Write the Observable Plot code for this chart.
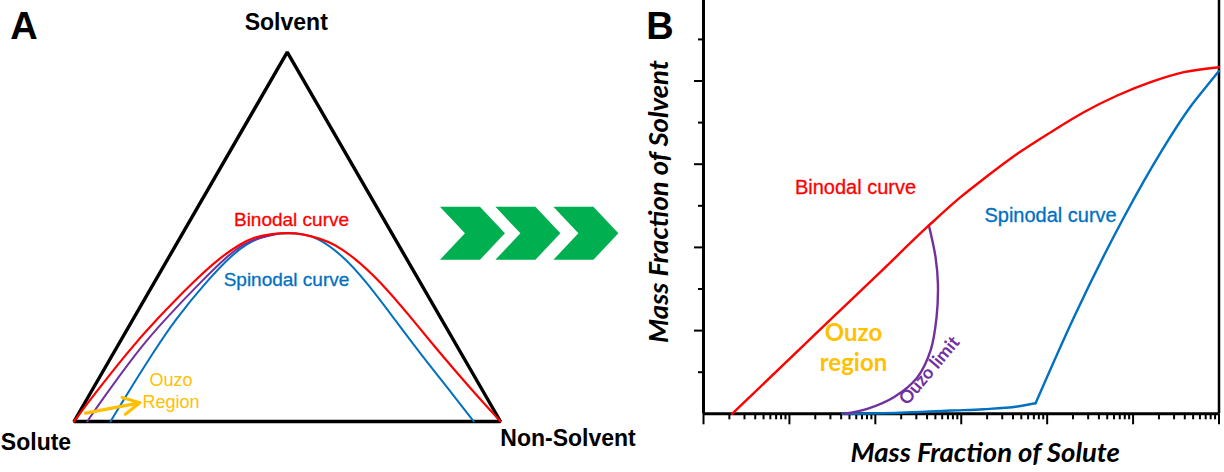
<!DOCTYPE html>
<html>
<head>
<meta charset="utf-8">
<script src="https://cdn.jsdelivr.net/npm/d3@7"></script>
<script src="https://cdn.jsdelivr.net/npm/@observablehq/plot@0.6"></script>
<style>
html, body { margin: 0; padding: 0; background: #fff; }
#wrap { display: flex; width: 1224px; height: 472px; overflow: hidden; }
#wrap svg { display: block; flex: none; }
</style>
</head>
<body>
<div id="wrap"></div>
<script>
// ---------- Panel A : ternary diagram (triangle side = 1, x along Solute→Non-Solvent, y = height) ----------
const SQ = Math.sqrt(3) / 2;
const vertexNames = ["Solute", "Non-Solvent", "Solvent"];
const triangleX = [0, 1, 0.5];
const triangleY = [0, 0, SQ];

const binodalA_x = [0, 0.0363, 0.1285, 0.1911, 0.2825, 0.3435, 0.3904, 0.4216, 0.4607, 0.4999, 0.5388, 0.5780, 0.6094, 0.6560, 0.7163, 0.7960, 0.8593, 0.9297, 1.0];
const binodalA_y = [0, 0.0492, 0.1665, 0.2368, 0.3306, 0.3852, 0.4166, 0.4321, 0.4396, 0.4424, 0.4396, 0.4284, 0.4166, 0.3852, 0.3306, 0.2368, 0.1587, 0.0774, 0];

const spinodalA_x = [0.0856, 0.1151, 0.1887, 0.2356, 0.3123, 0.3740, 0.4068, 0.4373, 0.4701, 0.5029, 0.5358, 0.5686, 0.6249, 0.6835, 0.7538, 0.8124, 0.8750, 0.9374];
const spinodalA_y = [0, 0.0492, 0.1665, 0.2368, 0.3306, 0.3939, 0.4173, 0.4321, 0.4396, 0.4420, 0.4396, 0.4321, 0.3939, 0.3306, 0.2368, 0.1587, 0.0804, 0];

const ouzoA_x = [0.0309, 0.0647, 0.1496, 0.2106, 0.3006, 0.3623, 0.4061, 0.4764];
const ouzoA_y = [0, 0.0492, 0.1665, 0.2368, 0.3306, 0.3904, 0.4244, 0.4401];

const ouzoArrowA = {x1: 0.027, y1: 0.0195, x2: 0.1543, y2: 0.0438};

// decorative chevrons (shape in triangle units, and left positions)
const chevronShapeX = [0, 0.0938, 0.1524, 0.0938, 0, 0.0586];
const chevronShapeY = [0.5034, 0.5034, 0.4413, 0.3791, 0.3791, 0.4413];
const chevronLeft = [0.858, 0.988, 1.124];

// ---------- Panel B : log mass fraction of solute vs mass fraction of solvent ----------
const binodalB_x = [2.16e-6, 3.0e-5, 1.15e-4, 4.2e-4, 9.8e-4, 1.83e-3, 4.49e-3, 0.011, 0.0267, 0.0655, 0.16, 0.39, 1];
const binodalB_y = [0, 0.2262, 0.3413, 0.4527, 0.5207, 0.5649, 0.625, 0.677, 0.725, 0.7651, 0.7971, 0.8212, 0.8332];

const spinodalFlatB_x = [4.15e-5, 1.96e-4, 7.5e-4, 1.83e-3, 4.49e-3, 7.33e-3];
const spinodalFlatB_y = [0, 0.0024, 0.0079, 0.011, 0.0175, 0.0255];
const spinodalRiseB_x = [7.33e-3, 0.0205, 0.0782, 0.209, 0.467, 0.698, 1];
const spinodalRiseB_y = [0.0255, 0.2322, 0.4726, 0.628, 0.7387, 0.7844, 0.824];

const ouzoLimitB_x = [4.2e-4, 5.02e-4, 5.35e-4, 5.16e-4, 4.39e-4, 3.08e-4, 1.64e-4, 8.05e-5, 4.3e-5];
const ouzoLimitB_y = [0.4527, 0.3767, 0.3125, 0.2324, 0.1517, 0.0875, 0.0399, 0.0120, 0];

const xMajorTicks = [1e-6, 1e-5, 1e-4, 1e-3, 1e-2, 1e-1, 1];
const yMajorTicks = [0.2, 0.4, 0.6, 0.8];
const yMinorTicks = [0.1, 0.3, 0.5, 0.7, 0.9];

// ---------- colours / fonts ----------
const RED = "#FF0000", BLUE = "#0070C0", PURPLE = "#7030A0", GOLD = "#FFC000", GREEN = "#00B050";
const ARIAL = "Liberation Sans, Arial, Helvetica, sans-serif";
const CALIBRI = "Lato, 'Open Sans', sans-serif";

const pts = (xs, ys) => xs.map((x, i) => ({x, y: ys[i]}));

// ---------- build panel A ----------
const triangle = pts(triangleX, triangleY);
const chevrons = chevronLeft.flatMap((left, id) =>
  chevronShapeX.map((sx, i) => ({id, x: left + sx, y: chevronShapeY[i]})));

const plotA = Plot.plot({
  width: 640,
  height: 472,
  marginLeft: 73.5,
  marginRight: 140,
  marginTop: 421 - SQ * 426.5,
  marginBottom: 51,
  x: {domain: [0, 1], axis: null},
  y: {domain: [0, SQ], axis: null},
  style: {background: "white", overflow: "visible"},
  marks: [
    Plot.line(chevrons, {x: "x", y: "y", z: "id", fill: GREEN, stroke: "none", curve: "linear-closed"}),
    Plot.line(triangle, {x: "x", y: "y", curve: "linear-closed", stroke: "black", strokeWidth: 3.4, strokeLinejoin: "miter"}),
    Plot.line(pts(spinodalA_x, spinodalA_y), {x: "x", y: "y", curve: "basis", stroke: BLUE, strokeWidth: 2}),
    Plot.line(pts(ouzoA_x, ouzoA_y), {x: "x", y: "y", curve: "basis", stroke: PURPLE, strokeWidth: 2}),
    Plot.line(pts(binodalA_x, binodalA_y), {x: "x", y: "y", curve: "basis", stroke: RED, strokeWidth: 2.2}),
    Plot.arrow([ouzoArrowA], {x1: "x1", y1: "y1", x2: "x2", y2: "y2", stroke: GOLD, strokeWidth: 3.2, headLength: 11, headAngle: 55}),
    // vertex labels
    Plot.text([{x: triangleX[2], y: triangleY[2], t: vertexNames[2]}], {x: "x", y: "y", text: "t", dx: -1, dy: -30,
      fontFamily: ARIAL, fontWeight: "bold", fontSize: 23, fill: "black", lineAnchor: "middle"}),
    Plot.text([{x: triangleX[0], y: triangleY[0], t: vertexNames[0]}], {x: "x", y: "y", text: "t", dx: -38, dy: 21,
      fontFamily: ARIAL, fontWeight: "bold", fontSize: 23, fill: "black", lineAnchor: "middle"}),
    Plot.text([{x: triangleX[1], y: triangleY[1], t: vertexNames[1]}], {x: "x", y: "y", text: "t", dx: 67.5, dy: 17.5,
      fontFamily: ARIAL, fontWeight: "bold", fontSize: 23, fill: "black", lineAnchor: "middle"}),
    // panel letter
    Plot.text(["A"], {frameAnchor: "top-left", text: d => d, dx: -50, dy: -25.6, textAnchor: "middle",
      fontFamily: ARIAL, fontWeight: "bold", fontSize: 38, fill: "black", lineAnchor: "middle"}),
    // curve labels
    Plot.text([{x: 0.51, y: 0.4725, t: "Binodal curve"}], {x: "x", y: "y", text: "t",
      fontFamily: ARIAL, fontSize: 19, fill: RED, lineAnchor: "middle", stroke: RED, strokeWidth: 0.3}),
    Plot.text([{x: 0.4982, y: 0.3318, t: "Spinodal curve"}], {x: "x", y: "y", text: "t",
      fontFamily: ARIAL, fontSize: 19, fill: BLUE, lineAnchor: "middle", stroke: BLUE, strokeWidth: 0.3}),
    Plot.text([{x: 0.2274, y: 0.0739, t: "Ouzo\nRegion"}], {x: "x", y: "y", text: "t", lineHeight: 1.22,
      fontFamily: ARIAL, fontSize: 18, fill: GOLD, lineAnchor: "middle"})
  ]
});

// ---------- build panel B ----------
const xMinorTicks = xMajorTicks.slice(0, -1).flatMap(m => d3.range(2, 10).map(k => k * m));
const plotB = Plot.plot({
  width: 584,
  height: 472,
  marginLeft: 63,
  marginRight: 5.5,
  marginTop: 0,
  marginBottom: 58.7,
  x: {type: "log", domain: [1e-6, 1]},
  y: {domain: [0, 413.3 / 416]},
  style: {background: "white", overflow: "visible"},
  marks: [
    Plot.axisX({ticks: xMinorTicks, tickSize: 6, tickFormat: () => "", strokeWidth: 2, label: null}),
    Plot.axisX({ticks: xMajorTicks, tickSize: 11, tickFormat: () => "", strokeWidth: 2, label: null}),
    Plot.axisY({ticks: yMinorTicks, tickSize: 5, tickFormat: () => "", strokeWidth: 2, label: null}),
    Plot.axisY({ticks: yMajorTicks, tickSize: 9, tickFormat: () => "", strokeWidth: 2, label: null}),
    Plot.ruleX([1], {stroke: "black", strokeWidth: 2.5}),
    Plot.ruleX([1e-6], {stroke: "black", strokeWidth: 3}),
    Plot.ruleY([0], {stroke: "black", strokeWidth: 3}),
    Plot.line(pts(spinodalFlatB_x, spinodalFlatB_y), {x: "x", y: "y", curve: "monotone-x", stroke: BLUE, strokeWidth: 2.4}),
    Plot.line(pts(spinodalRiseB_x, spinodalRiseB_y), {x: "x", y: "y", curve: "monotone-x", stroke: BLUE, strokeWidth: 2.4}),
    Plot.line(pts(ouzoLimitB_x, ouzoLimitB_y), {x: "x", y: "y", curve: "catmull-rom", stroke: PURPLE, strokeWidth: 2.4}),
    Plot.line(pts(binodalB_x, binodalB_y), {x: "x", y: "y", curve: "monotone-x", stroke: RED, strokeWidth: 2.4}),
    // labels
    Plot.text([{x: 5.88e-5, y: 0.5428, t: "Binodal curve"}], {x: "x", y: "y", text: "t",
      fontFamily: ARIAL, fontSize: 20, fill: RED, lineAnchor: "middle", stroke: RED, strokeWidth: 0.3}),
    Plot.text([{x: 0.01096, y: 0.4755, t: "Spinodal curve"}], {x: "x", y: "y", text: "t",
      fontFamily: ARIAL, fontSize: 20, fill: BLUE, lineAnchor: "middle", stroke: BLUE, strokeWidth: 0.3}),
    Plot.text([{x: 5.57e-5, y: 0.1618, t: "Ouzo\nregion"}], {x: "x", y: "y", text: "t", lineHeight: 1.25,
      fontFamily: CALIBRI, fontWeight: "bold", fontSize: 24, fill: GOLD, lineAnchor: "middle"}),
    Plot.text([{x: 4.27e-4, y: 0.104, t: "Ouzo limit"}], {x: "x", y: "y", text: "t", rotate: -50,
      fontFamily: CALIBRI, fontWeight: "bold", fontSize: 18, fill: PURPLE, lineAnchor: "middle"}),
    Plot.text(["B"], {frameAnchor: "top-left", text: d => d, dx: -43.5, dy: 26, textAnchor: "middle",
      fontFamily: ARIAL, fontWeight: "bold", fontSize: 38, fill: "black", lineAnchor: "middle"}),
    Plot.text(["Mass Fraction of Solvent"], {frameAnchor: "left", text: d => d, dx: -44, dy: -5.6, rotate: -90, textAnchor: "middle",
      fontFamily: CALIBRI, fontWeight: "bold", fontStyle: "italic", fontSize: 27.5, fill: "black", lineAnchor: "middle"}),
    Plot.text(["Mass Fraction of Solute"], {frameAnchor: "bottom", text: d => d, dx: 24, dy: 39, textAnchor: "middle",
      fontFamily: CALIBRI, fontWeight: "bold", fontStyle: "italic", fontSize: 27.5, fill: "black", lineAnchor: "middle"})
  ]
});

document.getElementById("wrap").append(plotA, plotB);
</script>
</body>
</html>
